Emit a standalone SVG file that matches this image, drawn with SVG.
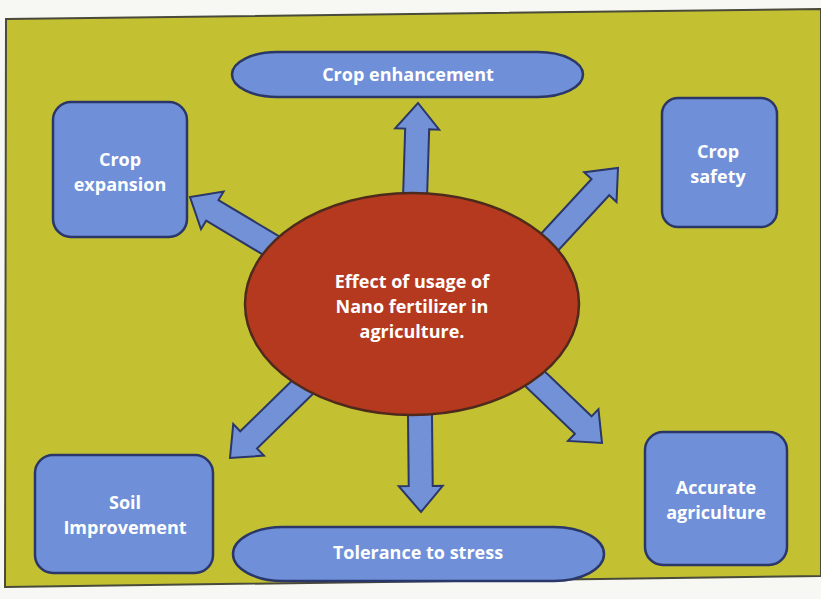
<svg xmlns="http://www.w3.org/2000/svg" width="821" height="599" viewBox="0 0 821 599">
<style>
.box{fill:#6f8fd8;stroke:#2b3768;stroke-width:2.5}
.arr{fill:#7291d6;stroke:#2b3768;stroke-width:2;stroke-linejoin:miter}
.lbl{font-family:"Open Sans","Liberation Sans",sans-serif;font-weight:bold;font-size:18px;fill:#ffffff;text-anchor:middle}
</style>
<defs>
<polygon id="ar" points="0,-12 -26,-12 -26,-22 0,0 -26,22 -26,12 0,12"/>
</defs>
<rect x="0" y="0" width="821" height="599" fill="#f7f7f4"/>
<polygon points="6,19 821,9 821,576 5,587" fill="#c3c131" stroke="#4a4a3a" stroke-width="2"/>
<g id="connectors">
<polygon class="arr" transform="translate(418,103) rotate(-88.2)" points="-97,-12 -26,-12 -26,-22 0,0 -26,22 -26,12 -97,12"/>
<polygon class="arr" transform="translate(421,512) rotate(89.4)" points="-102,-12 -26,-12 -26,-22 0,0 -26,22 -26,12 -102,12"/>
<polygon class="arr" transform="translate(190,197) rotate(210.9)" points="-107,-12 -26,-12 -26,-22 0,0 -26,22 -26,12 -107,12"/>
<polygon class="arr" transform="translate(618,168) rotate(-47.3)" points="-108,-12 -26,-12 -26,-22 0,0 -26,22 -26,12 -108,12"/>
<polygon class="arr" transform="translate(602,443) rotate(43.8)" points="-103,-12 -26,-12 -26,-22 0,0 -26,22 -26,12 -103,12"/>
<polygon class="arr" transform="translate(230,458) rotate(135.7)" points="-109,-12 -26,-12 -26,-22 0,0 -26,22 -26,12 -109,12"/>
</g>
<g id="center">
<ellipse cx="412" cy="304" rx="167" ry="111" fill="#b5391f" stroke="#4e2a1c" stroke-width="2.5"/>
<text class="lbl" x="412" y="288">Effect of usage of</text>
<text class="lbl" x="412" y="313">Nano fertilizer in</text>
<text class="lbl" x="412" y="338">agriculture.</text>
</g>
<g id="crop-enhancement">
<rect class="box" x="232" y="52" width="351" height="45" rx="45" ry="22.5"/>
<text class="lbl" x="408" y="81">Crop enhancement</text>
</g>
<g id="crop-expansion">
<rect class="box" x="53" y="102" width="134" height="135" rx="18"/>
<text class="lbl" x="120" y="166">Crop</text>
<text class="lbl" x="120" y="191">expansion</text>
</g>
<g id="crop-safety">
<rect class="box" x="662" y="98" width="115" height="129" rx="16"/>
<text class="lbl" x="718" y="158">Crop</text>
<text class="lbl" x="718" y="183">safety</text>
</g>
<g id="soil-improvement">
<rect class="box" x="35" y="455" width="178" height="118" rx="18"/>
<text class="lbl" x="125" y="509">Soil</text>
<text class="lbl" x="125" y="534">Improvement</text>
</g>
<g id="tolerance">
<rect class="box" x="233" y="527" width="371" height="54" rx="50" ry="27"/>
<text class="lbl" x="418" y="559">Tolerance to stress</text>
</g>
<g id="accurate-agriculture">
<rect class="box" x="645" y="432" width="142" height="133" rx="18"/>
<text class="lbl" x="716" y="494">Accurate</text>
<text class="lbl" x="716" y="519">agriculture</text>
</g>
</svg>
